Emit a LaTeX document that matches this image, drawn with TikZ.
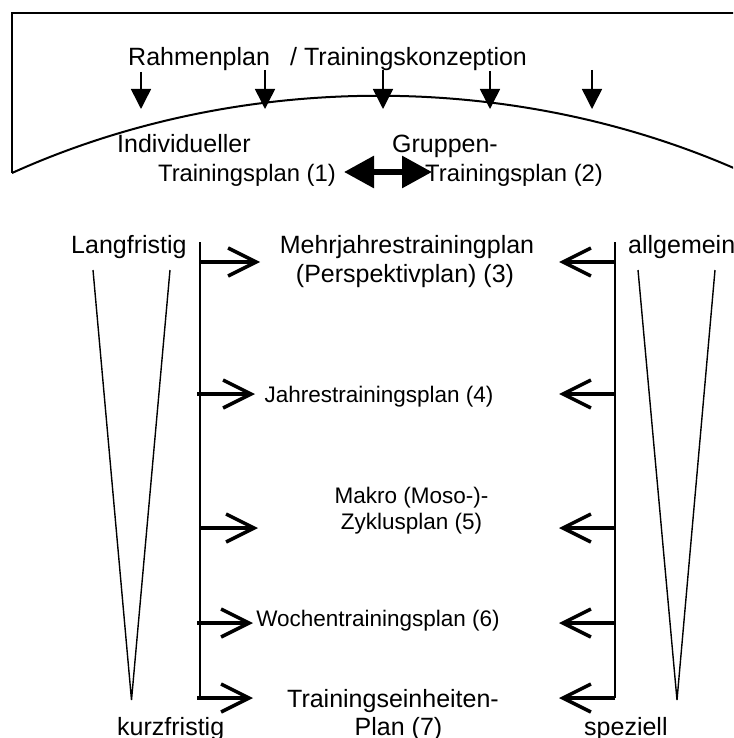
\documentclass[tikz,border=0pt]{standalone}
\usepackage{fontspec}
\setmainfont{Liberation Sans}
\usetikzlibrary{arrows.meta}
\begin{document}
\begin{tikzpicture}[x=1pt,y=-1pt,
  big/.style={font=\fontsize{25}{29}\selectfont, inner sep=0pt},
  mid/.style={font=\fontsize{23.8}{27}\selectfont, inner sep=0pt},
  small/.style={font=\fontsize{22.5}{26}\selectfont, inner sep=0pt},
  frame/.style={line width=2pt},
  feed/.style={line width=1.5pt, -{Triangle[length=20pt,width=20pt]}},
  swap/.style={line width=6pt, {Triangle[length=30pt,width=31pt]}-{Triangle[length=30pt,width=31pt]}},
  bar/.style={line width=2.2pt},
  level/.style={line width=3.5pt, -{Straight Barb[length=28pt,width=28pt]}},
  wedge/.style={line width=1.4pt}]
\useasboundingbox (0,0) rectangle (733,738);
\clip (0,0) rectangle (733,738);

% frame with the curved lower edge
\coordinate (tr) at (745,13);
\coordinate (tl) at (12,13);
\coordinate (bl) at (12,173);
\coordinate (br) at (745,173);
\draw[frame] (tr) -- (tl) -- (bl);
\draw[frame] (bl) .. controls (240,70) and (517,70) .. (br);

% headline
\node[big, anchor=base west] (rahmen) at (128,66) {Rahmenplan};
\node[big, anchor=base west] (konz) at (290,66) {/ Trainingskonzeption};

% arrows feeding down onto the curve
\foreach \i/\x/\t in {1/141/72, 2/265/70, 3/383/70, 4/490/71, 5/592/70} {
  \coordinate (in\i) at (\x,\t);
  \coordinate (out\i) at (\x,109);
  \draw[feed] (in\i) -- (out\i);
}

% individual and group plans
\node[big, anchor=base west] (indiv) at (117,153) {Individueller};
\node[mid, anchor=base east] (tp1) at (336,182) {Trainingsplan (1)};
\node[big, anchor=base west] (grp) at (392,153) {Gruppen-};
\node[mid, anchor=base west] (tp2) at (425,182) {Trainingsplan (2)};
\coordinate (swl) at (344,172);
\coordinate (swr) at (432,172);
\draw[swap] (swl) -- (swr);

% side labels
\node[big, anchor=base west] (lang) at (71,253) {Langfristig};
\node[big, anchor=base west] (kurz) at (117,735) {kurzfristig};
\node[big, anchor=base west] (allg) at (628,253) {allgemein};
\node[big, anchor=base west] (spez) at (584,735) {speziell};

% planning levels
\node[big, anchor=base] (mehr) at (407,253) {Mehrjahrestrainingplan};
\node[big, anchor=base] (persp) at (405,282) {(Perspektivplan) (3)};
\node[small, anchor=base] (jahr) at (379,402) {Jahrestrainingsplan (4)};
\node[small, anchor=base] (makro) at (411.5,503) {Makro (Moso-)-};
\node[small, anchor=base] (zyk) at (411.5,529) {Zyklusplan (5)};
\node[small, anchor=base] (woch) at (378,626) {Wochentrainingsplan (6)};
\node[big, anchor=base] (te) at (393,707) {Trainingseinheiten-};
\node[big, anchor=base] (plan7) at (398.5,735) {Plan (7)};

% wedges: long term to short term, general to specific
\coordinate (lwa) at (93,270);
\coordinate (lwt) at (131.5,700);
\coordinate (lwb) at (170,270);
\draw[wedge] (lwa) -- (lwt) -- (lwb);
\coordinate (rwa) at (638,270);
\coordinate (rwt) at (677,700);
\coordinate (rwb) at (715,270);
\draw[wedge] (rwa) -- (rwt) -- (rwb);

% vertical distribution bars
\coordinate (lbt) at (200,242);
\coordinate (lbb) at (200,698);
\coordinate (rbt) at (615,242);
\coordinate (rbb) at (615,698);
\draw[bar] (lbt) -- (lbb);
\draw[bar] (rbt) -- (rbb);

% arrows from the bars towards each level
\foreach \k/\y/\s/\e in {3/262/200/260, 4/394/197/255, 5/528/200/258, 6/623/197/253, 7/698/197/253} {
  \coordinate (ls\k) at (\s,\y);
  \coordinate (le\k) at (\e,\y);
  \draw[level] (ls\k) -- (le\k);
  \coordinate (rs\k) at (615,\y);
  \coordinate (re\k) at (559,\y);
  \draw[level] (rs\k) -- (re\k);
}
\end{tikzpicture}
\end{document}
